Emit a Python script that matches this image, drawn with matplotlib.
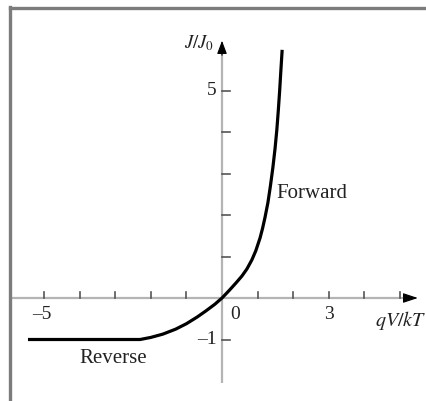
import matplotlib
matplotlib.use("Agg")
import matplotlib.pyplot as plt
from matplotlib.lines import Line2D

plt.rcParams['font.family'] = ['Liberation Serif', 'DejaVu Serif']
plt.rcParams['mathtext.fontset'] = 'stix'

# Diode current-voltage characteristic (normalised)
qv_kt = [-5.45, -2.30, -2.00, -1.66, -1.30, -1.00, -0.70, -0.45, -0.20,
         0.00, 0.20, 0.40, 0.56, 0.70, 0.84, 0.95, 1.07, 1.14, 1.21,
         1.29, 1.36, 1.43, 1.49, 1.54, 1.58, 1.62, 1.655, 1.69]
j_j0 = [-1.00, -1.00, -0.95, -0.87, -0.75, -0.62, -0.46, -0.31, -0.15,
        0.00, 0.18, 0.37, 0.53, 0.70, 0.92, 1.14, 1.45, 1.68, 1.95,
        2.30, 2.70, 3.15, 3.60, 4.05, 4.50, 5.00, 5.50, 5.98]

x_ticks = [-5, -4, -3, -2, -1, 1, 2, 3, 4, 5]
x_tick_labels = {-5: '\u20135', 0: '0', 3: '3'}
y_ticks = [-1, 1, 2, 3, 4, 5]
y_tick_labels = {5: '5', -1: '\u20131'}

W, H = 426, 401
fig = plt.figure(figsize=(W / 100, H / 100), dpi=100)
ax = fig.add_axes([0, 0, 1, 1])
ax.set_axis_off()

# pixel layout of the data frame
x0_px, y0_px = 222.0, 298.0
sx, sy = 35.6, 41.5
ax.set_xlim(-x0_px / sx, (W - x0_px) / sx)
ax.set_ylim((y0_px - H) / sy, y0_px / sy)

axis_grey = '#b4b4b4'
tick_grey = '#555555'
text_col = '#222222'

# axes lines
x_start, x_end = -5.96, 5.30
y_start, y_end = -2.05, 6.0
ax.plot([x_start, x_end], [0, 0], color=axis_grey, lw=1.6, solid_capstyle='butt', zorder=1)
ax.plot([0, 0], [y_start, y_end], color=axis_grey, lw=1.6, solid_capstyle='butt', zorder=1)

# arrow heads
ax.annotate('', xy=(5.50, 0), xytext=(5.10, 0),
            arrowprops=dict(arrowstyle='-|>,head_length=0.9,head_width=0.3',
                            color='black', lw=0.8, shrinkA=0, shrinkB=0))
ax.annotate('', xy=(0, 6.20), xytext=(0, 5.85),
            arrowprops=dict(arrowstyle='-|>,head_length=0.8,head_width=0.3',
                            color='black', lw=0.8, shrinkA=0, shrinkB=0))

# tick marks
for t in x_ticks:
    ax.plot([t, t], [0, 6 / sy], color=tick_grey, lw=1.2, zorder=2)
for t in y_ticks:
    ax.plot([0, 8 / sx], [t, t], color=tick_grey, lw=1.2, zorder=2)

# tick labels
for t, s in x_tick_labels.items():
    dx = 0.38 if t == 0 else 0.0
    ax.text(t + dx - (0.05 if t == -5 else 0), -0.20, s, ha='center', va='top',
            fontsize=14, color=text_col)
for t, s in y_tick_labels.items():
    ax.text(-0.15, t, s, ha='right', va='center', fontsize=14, color=text_col)

# axis titles
ax.text(5.02, -0.27, r'$qV/kT$', ha='center', va='top', fontsize=14.5, color=text_col)
ax.text(-0.65, 6.15, r'$J/J_0$', ha='center', va='center', fontsize=13.5, color=text_col)

# curve
ax.plot(qv_kt, j_j0, color='black', lw=2.3, solid_capstyle='butt',
        solid_joinstyle='round', zorder=3)

# region labels
ax.text(1.52, 2.53, 'Forward', ha='left', va='center', fontsize=15, color=text_col)
ax.text(-3.05, -1.45, 'Reverse', ha='center', va='center', fontsize=15, color=text_col)

# outer frame (top and left edges)
frame_col = '#7c7c7c'
fig.add_artist(Line2D([9.5 / W, 1.0], [1 - 7.5 / H, 1 - 7.5 / H],
                      transform=fig.transFigure, color=frame_col, lw=2.4))
fig.add_artist(Line2D([9.5 / W, 9.5 / W], [0.0, 1 - 6.5 / H],
                      transform=fig.transFigure, color=frame_col, lw=2.4))

fig.savefig('out.png', dpi=100, facecolor='white')
